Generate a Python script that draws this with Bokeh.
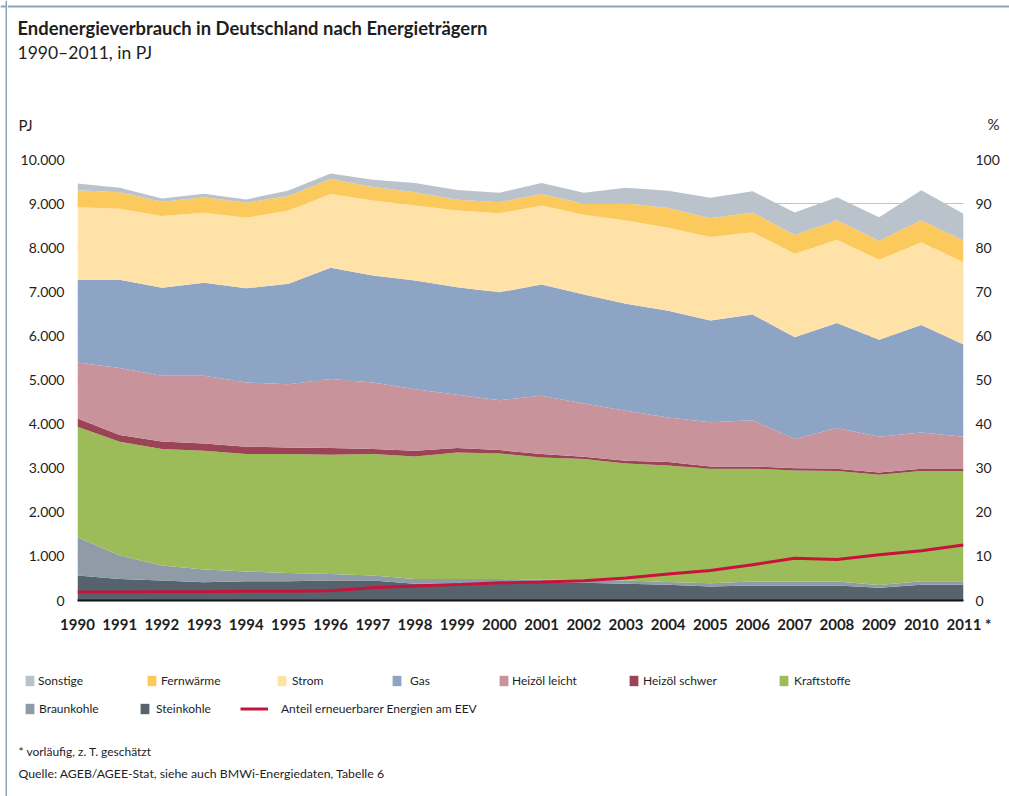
from bokeh.plotting import figure
from bokeh.models import (Range1d, LinearAxis, FixedTicker, Label, Legend,
                          LegendItem, Span, ColumnDataSource)
from bokeh.layouts import column, row
from bokeh.embed import file_html
from bokeh.resources import INLINE

# ---------------- data (PJ) ----------------
years = list(range(1990, 2012))
year_labels = [str(y) for y in years]
year_labels[-1] = "\u00a0\u00a0\u00a02011\u00a0*"

steinkohle = [566, 490, 453, 415, 437, 437, 453, 453, 377, 377, 400, 400, 400, 377, 355, 317, 340, 340, 340, 290, 355, 355]
braunkohle = [868, 529, 339, 287, 219, 189, 150, 113, 113, 113, 90, 68, 68, 76, 65, 75, 90, 90, 90, 60, 82, 82]
kraftstoffe = [2506, 2581, 2642, 2694, 2665, 2695, 2703, 2755, 2778, 2868, 2845, 2777, 2740, 2656, 2640, 2598, 2560, 2520, 2505, 2500, 2498, 2498]
heizoel_schwer = [188, 151, 173, 166, 166, 150, 150, 113, 128, 98, 76, 76, 52, 61, 80, 50, 50, 50, 50, 50, 50, 45]
heizoel_leicht = [1267, 1519, 1487, 1532, 1456, 1435, 1564, 1509, 1397, 1208, 1132, 1320, 1207, 1132, 1010, 1000, 1050, 660, 925, 815, 825, 735]
gas = [1880, 2005, 2000, 2113, 2136, 2278, 2526, 2427, 2463, 2441, 2447, 2524, 2473, 2425, 2420, 2310, 2395, 2310, 2380, 2195, 2440, 2090]
strom = [1645, 1608, 1623, 1585, 1600, 1661, 1669, 1700, 1701, 1740, 1790, 1792, 1810, 1890, 1885, 1890, 1865, 1890, 1890, 1815, 1875, 1865]
fernwaerme = [385, 377, 323, 354, 339, 325, 345, 305, 303, 240, 250, 263, 245, 393, 445, 430, 450, 430, 440, 435, 495, 490]
sonstige = [150, 97, 77, 76, 76, 128, 120, 165, 205, 225, 215, 245, 250, 350, 390, 460, 480, 510, 525, 530, 680, 610]

# share of renewables in final energy consumption (%)
anteil_ee = [1.9, 1.9, 2.0, 2.0, 2.1, 2.1, 2.2, 2.9, 3.3, 3.6, 4.0, 4.2, 4.5, 5.1, 6.0, 6.8, 8.1, 9.6, 9.3, 10.4, 11.3, 12.6]

y_ticks = list(range(0, 10001, 1000))
y_tick_labels = ["0", "1.000", "2.000", "3.000", "4.000", "5.000",
                 "6.000", "7.000", "8.000", "9.000", "10.000"]
pct_ticks = list(range(0, 101, 10))

keys = ["stein", "braun", "kraft", "hs", "hl", "gas", "strom", "fern", "sonst"]
names = ["Steinkohle", "Braunkohle", "Kraftstoffe", "Heizöl schwer", "Heizöl leicht",
         "Gas", "Strom", "Fernwärme", "Sonstige"]
colors = ["#56636D", "#8F9BA6", "#9CBB59", "#9B4455", "#C8939A",
          "#8EA4C5", "#FEE2A8", "#FCC95C", "#BAC3CC"]
line_name = "Anteil erneuerbarer Energien am EEV"
line_color = "#C8143C"

FONT = "Lato"
TXT = "#1E1E1E"
BORDER = "#8FA5B5"
W = 1002  # width of the content column (page x 7 .. 1009)


def blank_fig(width, height, y_top, y_bottom, x0=7, x1=1009):
    f = figure(width=width, height=height, output_backend="svg", toolbar_location=None,
               x_range=Range1d(x0, x1), y_range=Range1d(y_bottom, y_top),
               x_axis_location=None, y_axis_location=None, min_border=0,
               outline_line_color=None, frame_align=False)
    f.grid.visible = False
    return f


def lab(f, text, px, py, size, style="normal"):
    f.add_layout(Label(x=px, y=py, text=text, text_font=FONT, text_font_size=size,
                       text_font_style=style, text_color=TXT, text_align="left",
                       text_baseline="alphabetic"))


# ---------------- header ----------------
top = blank_fig(W, 140, 0, 140)
top.add_layout(Span(location=6, dimension="width", line_color=BORDER, line_width=2))
lab(top, "Endenergieverbrauch in Deutschland nach Energieträgern", 17, 27, "18.4px", "bold")
lab(top, "1990–2011, in PJ", 17, 52, "17.5px")
lab(top, "PJ", 18, 124, "15px")
lab(top, "%", 987, 123, "15px")

# ---------------- main chart ----------------
src = ColumnDataSource(dict(year=years, stein=steinkohle, braun=braunkohle,
                            kraft=kraftstoffe, hs=heizoel_schwer, hl=heizoel_leicht,
                            gas=gas, strom=strom, fern=fernwaerme, sonst=sonstige))

p = figure(width=W, height=500, output_backend="svg", toolbar_location=None,
           x_range=Range1d(1990, 2011), y_range=Range1d(0, 10000),
           min_border_left=70, min_border_right=46, min_border_top=19,
           min_border_bottom=40, outline_line_color=None, frame_align=False)
p.extra_y_ranges = {"pct": Range1d(0, 100)}

rs = p.varea_stack(stackers=keys, x="year", color=colors, source=src)
ln = p.line(years, anteil_ee, y_range_name="pct", line_color=line_color, line_width=3)

xa = p.xaxis[0]
xa.ticker = FixedTicker(ticks=years)
xa.major_label_overrides = {y: l for y, l in zip(years, year_labels)}
xa.major_label_text_font = FONT
xa.major_label_text_font_style = "bold"
xa.major_label_text_font_size = "15px"
xa.major_label_text_color = TXT
xa.major_label_standoff = 14
xa.axis_line_color = "#111111"
xa.axis_line_width = 2
xa.major_tick_line_color = None
xa.minor_tick_line_color = None
xa.major_tick_out = 0
xa.minor_tick_out = 0

ya = p.yaxis[0]
ya.ticker = FixedTicker(ticks=y_ticks)
ya.major_label_overrides = {t: l for t, l in zip(y_ticks, y_tick_labels)}
ya.major_label_text_font = FONT
ya.major_label_text_font_size = "14px"
ya.major_label_text_color = TXT
ya.major_label_standoff = 13
ya.axis_line_color = None
ya.major_tick_line_color = None
ya.minor_tick_line_color = None
ya.major_tick_out = 0
ya.minor_tick_out = 0

ra = LinearAxis(y_range_name="pct", ticker=FixedTicker(ticks=pct_ticks))
ra.major_label_text_font = FONT
ra.major_label_text_font_size = "14px"
ra.major_label_text_color = TXT
ra.major_label_standoff = 12
ra.axis_line_color = None
ra.major_tick_line_color = None
ra.minor_tick_line_color = None
ra.major_tick_out = 0
ra.minor_tick_out = 0
p.add_layout(ra, "right")

p.xgrid.grid_line_color = None
p.ygrid.ticker = FixedTicker(ticks=y_ticks)
p.ygrid.grid_line_color = "#C4C4C4"
p.ygrid.grid_line_width = 1

# ---------------- legend + notes ----------------
bot = blank_fig(W, 156, 640, 796)
# legend carriers: a single point far outside the visible range (draws nothing)
leg_r = {}
for n, c in zip(names, colors):
    leg_r[n] = bot.varea(x=[0], y1=[0], y2=[0], color=c)
leg_r[line_name] = bot.line(x=[0], y=[0], line_color=line_color, line_width=3)

legend_spec = [
    ("Sonstige", 24, 670, 11, 3),
    ("Fernwärme", 146, 670, 11, 4),
    ("Strom", 276, 670, 11, 5),
    ("Gas", 391, 670, 11, 8),
    ("Heizöl leicht", 498, 670, 11, 3),
    ("Heizöl schwer", 628, 670, 11, 4),
    ("Kraftstoffe", 778, 670, 11, 5),
    ("Braunkohle", 24, 698, 11, 4),
    ("Steinkohle", 139, 698, 11, 6),
    (line_name, 240, 698, 28, 13),
]
for name, px, py, gw, so in legend_spec:
    lg = Legend(items=[LegendItem(label=name, renderers=[leg_r[name]])],
                location=(px - 7, 796 - (py + 20)), orientation="horizontal",
                padding=0, margin=0, spacing=0, border_line_color=None,
                background_fill_alpha=0, glyph_width=gw, glyph_height=13,
                label_height=20, label_standoff=so, label_text_font=FONT,
                label_text_font_size="12px", label_text_color=TXT)
    bot.add_layout(lg, "center")

lab(bot, "* vorläufig, z. T. geschätzt", 18, 751, "12px")
lab(bot, "Quelle: AGEB/AGEE-Stat, siehe auch BMWi-Energiedaten, Tabelle 6", 18, 773, "12.3px")

# ---------------- left border strip ----------------
strip = blank_fig(7, 796, 0, 796, x0=0, x1=7)
strip.add_layout(Span(location=6, dimension="height", line_color=BORDER, line_width=2))
strip.add_layout(Span(location=6, dimension="width", line_color=BORDER, line_width=2))

layout = row(strip, column(top, p, bot, spacing=0), spacing=0)

open("out.html", "w").write(file_html(layout, INLINE))
